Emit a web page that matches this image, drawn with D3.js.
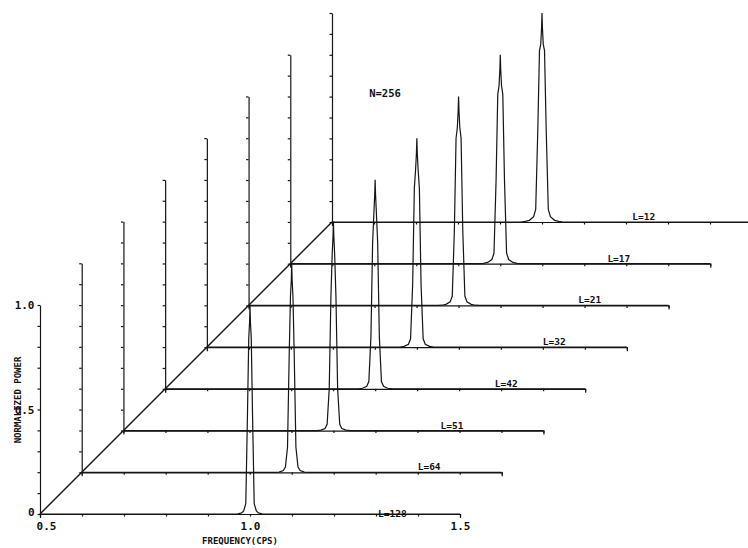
<!DOCTYPE html>
<html>
<head>
<meta charset="utf-8">
<script src="https://cdn.jsdelivr.net/npm/d3@7"></script>
<style>
  html, body { margin: 0; padding: 0; background: #fff; }
  svg { display: block; }
  text { font-family: "DejaVu Sans Mono", "Liberation Mono", monospace; fill: #111; font-weight: bold; }
</style>
</head>
<body>
<svg id="chart" width="748" height="548"></svg>
<script>
// Window lengths, front (nearest) to back
const windowLengths = ["L=128", "L=64", "L=51", "L=42", "L=32", "L=21", "L=17", "L=12"];

// Frequency samples (cps) shared by every spectrum
const freqs = [0.5, 0.95, 0.96, 0.97, 0.98, 0.985, 0.99, 0.994, 0.997, 0.999, 1.0,
               1.001, 1.003, 1.006, 1.01, 1.015, 1.02, 1.03, 1.04, 1.05, 1.5];

// Normalized power for each window length
const powerL128 = [0, 0, 0, 0, 0.005, 0.015, 0.05, 0.48, 0.84, 0.92, 1.0, 0.92, 0.84, 0.48, 0.05, 0.015, 0.005, 0, 0, 0, 0];
const powerL64  = [0, 0, 0, 0.001, 0.008, 0.025, 0.12, 0.56, 0.84, 0.92, 1.0, 0.92, 0.84, 0.56, 0.12, 0.025, 0.008, 0.001, 0, 0, 0];
const powerL51  = [0, 0, 0, 0.002, 0.01, 0.03, 0.2, 0.64, 0.84, 0.93, 1.0, 0.93, 0.84, 0.64, 0.2, 0.03, 0.01, 0.002, 0, 0, 0];
const powerL42  = [0, 0, 0, 0.003, 0.012, 0.035, 0.25, 0.70, 0.84, 0.93, 1.0, 0.93, 0.84, 0.70, 0.25, 0.035, 0.012, 0.003, 0, 0, 0];
const powerL32  = [0, 0, 0, 0.004, 0.014, 0.04, 0.30, 0.76, 0.85, 0.93, 1.0, 0.93, 0.85, 0.76, 0.30, 0.04, 0.014, 0.004, 0, 0, 0];
const powerL21  = [0, 0, 0.001, 0.005, 0.017, 0.045, 0.36, 0.80, 0.85, 0.93, 1.0, 0.93, 0.85, 0.80, 0.36, 0.045, 0.017, 0.005, 0.001, 0, 0];
const powerL17  = [0, 0, 0.002, 0.006, 0.02, 0.05, 0.40, 0.81, 0.85, 0.93, 1.0, 0.93, 0.85, 0.81, 0.40, 0.05, 0.02, 0.006, 0.002, 0, 0];
const powerL12  = [0, 0, 0.003, 0.008, 0.025, 0.06, 0.44, 0.82, 0.85, 0.93, 1.0, 0.93, 0.85, 0.82, 0.44, 0.06, 0.025, 0.008, 0.003, 0, 0];
const powerSeries = [powerL128, powerL64, powerL51, powerL42, powerL32, powerL21, powerL17, powerL12];

// Axis tick values and labels
const freqTickValues = [0.5, 0.6, 0.7, 0.8, 0.9, 1.0, 1.1, 1.2, 1.3, 1.4, 1.5];
const freqTickLabels = { "0.5": "0.5", "1": "1.0", "1.5": "1.5" };
const powerTickValues = [0, 0.1, 0.2, 0.3, 0.4, 0.5, 0.6, 0.7, 0.8, 0.9, 1.0];
const powerTickLabels = { "0": "0", "0.5": "0.5", "1": "1.0" };
const xTitle = "FREQUENCY(CPS)";
const yTitle = "NORMALIZED POWER";
const sampleNote = "N=256";

// ---- layout ----
const svg = d3.select("#chart");
const ink = "#151515";

const x = d3.scaleLinear().domain([0.5, 1.5]).range([40, 460]);
const y = d3.scaleLinear().domain([0, 1]).range([514, 305]);
// each spectrum further back is shifted up and to the right along a 45° depth axis
const depth = d3.scaleLinear().domain([0, windowLengths.length - 1]).range([0, 292]);
// where along each trace its window-length tag sits (in cps)
const tagFreq = [1.305, 1.3, 1.255, 1.285, 1.3, 1.285, 1.255, 1.215];

const line = d3.line().x(d => x(d[0])).y(d => y(d[1]));

// depth axis joining the trace origins
svg.append("line")
  .attr("x1", x(0.5)).attr("y1", y(0))
  .attr("x2", x(0.5) + depth(windowLengths.length - 1))
  .attr("y2", y(0) - depth(windowLengths.length - 1))
  .attr("stroke", ink).attr("stroke-width", 1.4);

windowLengths.forEach((label, i) => {
  const g = svg.append("g")
    .attr("transform", `translate(${depth(i)},${-depth(i)})`)
    .style("color", ink);

  // frequency baseline
  const xa = g.append("g")
    .attr("transform", `translate(0,${y(0)})`)
    .call(d3.axisBottom(x)
      .tickValues(freqTickValues)
      .tickSizeInner(2.5)
      .tickSizeOuter(4)
      .tickPadding(5)
      .tickFormat(d => i === 0 ? (freqTickLabels[String(d)] || "") : ""));
  xa.select(".domain").attr("stroke-width", 1.2);
  xa.selectAll(".tick line").attr("stroke-width", 1.2);
  xa.selectAll("text").attr("font-size", 11).attr("font-family", null).attr("dy", "0.75em")
    .attr("dx", d => d === 0.5 ? 6 : 0);

  // power axis
  const ya = g.append("g")
    .attr("transform", `translate(${x(0.5)},0)`)
    .call(d3.axisLeft(y)
      .tickValues(powerTickValues)
      .tickSizeInner(2.5)
      .tickSizeOuter(0)
      .tickPadding(3)
      .tickFormat(d => i === 0 ? (powerTickLabels[String(d)] || "") : ""));
  ya.select(".domain").attr("stroke-width", 1.2);
  ya.selectAll(".tick line").attr("stroke-width", 1.2);
  ya.selectAll("text").attr("font-size", 11).attr("font-family", null)
    .attr("dy", d => d === 0 ? "0.1em" : "0.32em");

  // spectrum trace
  g.append("path")
    .datum(freqs.map((f, k) => [f, powerSeries[i][k]]))
    .attr("d", line)
    .attr("fill", "none")
    .attr("stroke", ink)
    .attr("stroke-width", 1.2);

  // window-length tag
  g.append("text")
    .attr("x", x(tagFreq[i]))
    .attr("y", i === 0 ? y(0) + 3 : y(0) - 2)
    .attr("font-size", 9.5)
    .text(label);
});

// axis titles
svg.append("text")
  .attr("x", 240).attr("y", 544)
  .attr("text-anchor", "middle")
  .attr("font-size", 9)
  .text(xTitle);

svg.append("text")
  .attr("transform", "translate(21,400) rotate(-90)")
  .attr("text-anchor", "middle")
  .attr("font-size", 9)
  .text(yTitle);

svg.append("text")
  .attr("x", 385).attr("y", 97)
  .attr("text-anchor", "middle")
  .attr("font-size", 10.5)
  .text(sampleNote);
</script>
</body>
</html>
